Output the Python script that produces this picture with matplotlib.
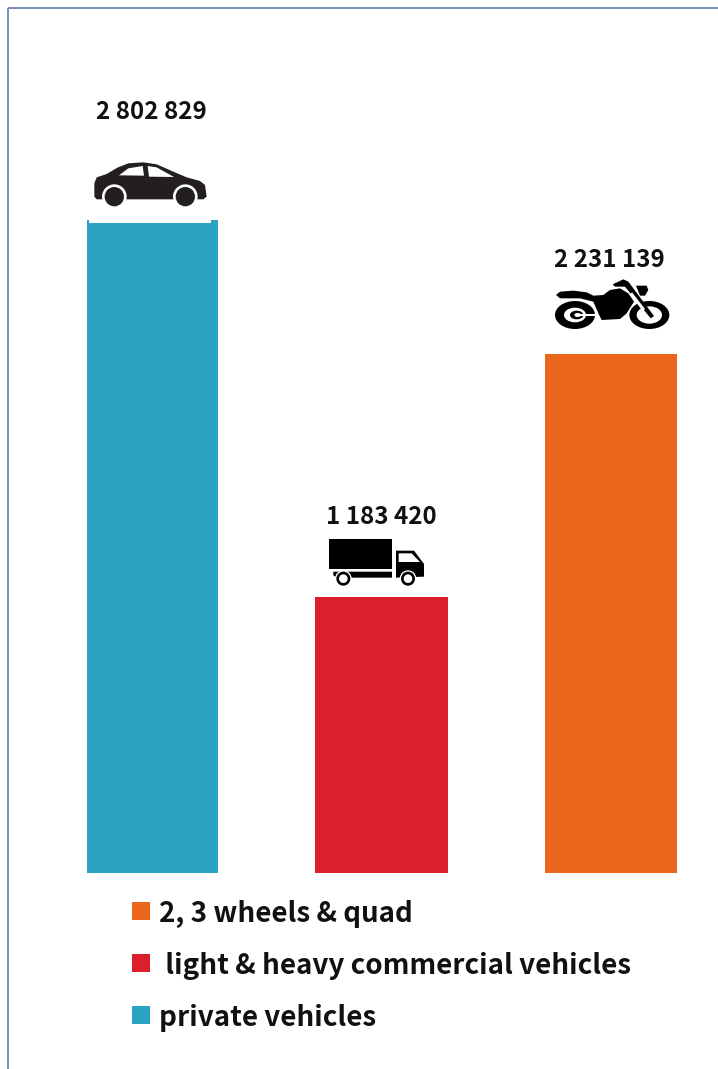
import matplotlib
matplotlib.use("Agg")
import matplotlib.pyplot as plt
from matplotlib.patches import Ellipse, Polygon, Rectangle

plt.rcParams["font.family"] = ["Noto Sans CJK SC", "DejaVu Sans"]

categories = ["private vehicles", "light & heavy commercial vehicles", "2, 3 wheels & quad"]
values = [2802829, 1183420, 2231139]
colors = ["#2CA3C1", "#DC202B", "#EB661D"]
legend_labels = ["2, 3 wheels & quad", " light & heavy commercial vehicles", "private vehicles"]
legend_colors = ["#EB661D", "#DC202B", "#2CA3C1"]

W, H = 718, 1069
BASE_Y = 873
PER_PX = 4295.0
STEP = 229.0
FIRST = 152.5
INK = "#111111"

fig = plt.figure(figsize=(W / 100, H / 100), dpi=100, facecolor="white")

ax = fig.add_axes([0, (H - BASE_Y) / H, 1, BASE_Y / H])
ax.set_xlim(-FIRST / STEP, (W - FIRST) / STEP)
ax.set_ylim(0, BASE_Y * PER_PX)
ax.axis("off")
ax.bar(range(len(values)), values, width=[131 / STEP, 133 / STEP, 132 / STEP], color=colors)

# overlay in pixel coordinates for the frame, icons and legend
ov = fig.add_axes([0, 0, 1, 1], facecolor="none")
ov.set_xlim(0, W)
ov.set_ylim(H, 0)
ov.axis("off")

ov.plot([8, 8], [H, 8], color="#7A8DB5", lw=1.4, solid_capstyle="butt")
ov.plot([8, W], [8, 8], color="#7A8DB5", lw=1.4, solid_capstyle="butt")

# value labels sit above the icons
label_y = [112, 517, 260]
for i, v in enumerate(values):
    x = FIRST + STEP * i
    ov.text(x - 1 + (i == 1), label_y[i], f"{v:,}".replace(",", " "), ha="center", va="center",
            fontsize=17.4, fontweight="bold", color=INK)


def local(ox, oy):
    return lambda pts: [(ox + px / 3, oy + py / 3) for px, py in pts]


def poly(tf, pts, color="black"):
    ov.add_patch(Polygon(tf(pts), closed=True, fc=color, ec="none"))


def disc(tf, cx, cy, rx, ry=None, color="black"):
    ry = rx if ry is None else ry
    (x, y), = tf([(cx, cy)])
    ov.add_patch(Ellipse((x, y), 2 * rx / 3, 2 * ry / 3, fc=color, ec="none"))


# car
car = local(0, 0)
ov.add_patch(Rectangle((89, 219.5), 122, 3.5, fc="white", ec="none", zorder=3))
poly(car, [(283, 590), (283, 550), (290, 532), (320, 522), (352, 503), (385, 490),
           (430, 487), (470, 493), (520, 515), (560, 532), (600, 543), (615, 555),
           (620, 590), (610, 598), (290, 598)], "#231F20")
poly(car, [(357, 526), (385, 505), (428, 498), (432, 527)], "white")
poly(car, [(443, 498), (470, 502), (522, 531), (447, 530)], "white")
for cx in (343, 556):
    disc(car, cx, 590, 37, color="white")
    disc(car, cx, 590, 29, color="#231F20")

# truck
truck = local(310, 490)
poly(truck, [(58, 148), (246, 148), (246, 238), (58, 238)])
poly(truck, [(70, 245), (246, 245), (246, 263), (80, 263), (70, 256)])
poly(truck, [(258, 182), (312, 182), (342, 222), (342, 260), (258, 263)])
poly(truck, [(266, 190), (305, 190), (330, 216), (266, 216)], "white")
for cx in (100, 294):
    disc(truck, cx, 266, 25, color="white")
    disc(truck, cx, 266, 21)
    disc(truck, cx, 266, 13, color="white")

# motorcycle
moto = local(530, 235)
disc(moto, 135, 240, 60, 42)
disc(moto, 135, 240, 33, 22, color="white")
disc(moto, 140, 240, 20, 13)
disc(moto, 143, 240, 10, 6, color="white")
poly(moto, [(145, 236), (200, 236), (200, 244), (145, 244)], "white")
disc(moto, 358, 240, 60, 42)
disc(moto, 358, 240, 38, 26, color="white")
poly(moto, [(78, 180), (90, 170), (130, 167), (170, 172), (190, 182), (220, 180),
            (240, 165), (270, 160), (295, 175), (312, 200), (290, 235), (270, 252),
            (215, 255), (205, 235), (190, 200), (150, 190), (90, 190)])
poly(moto, [(248, 148), (280, 133), (295, 140), (372, 243), (362, 250), (285, 155), (255, 155)])
poly(moto, [(318, 152), (350, 152), (355, 165), (345, 182), (330, 182)])
poly(moto, [(300, 178), (306, 172), (345, 222), (338, 228)], "white")

# legend
legend_y = [914, 966, 1018]
square_y = [911, 963, 1015]
for lab, col, y, sy in zip(legend_labels, legend_colors, legend_y, square_y):
    ov.add_patch(Rectangle((132, sy - 9), 18, 18, fc=col, ec="none"))
    ov.text(159, y, lab, ha="left", va="center", fontsize=20, fontweight="bold", color=INK)

fig.savefig("out.png", dpi=100, facecolor="white")
